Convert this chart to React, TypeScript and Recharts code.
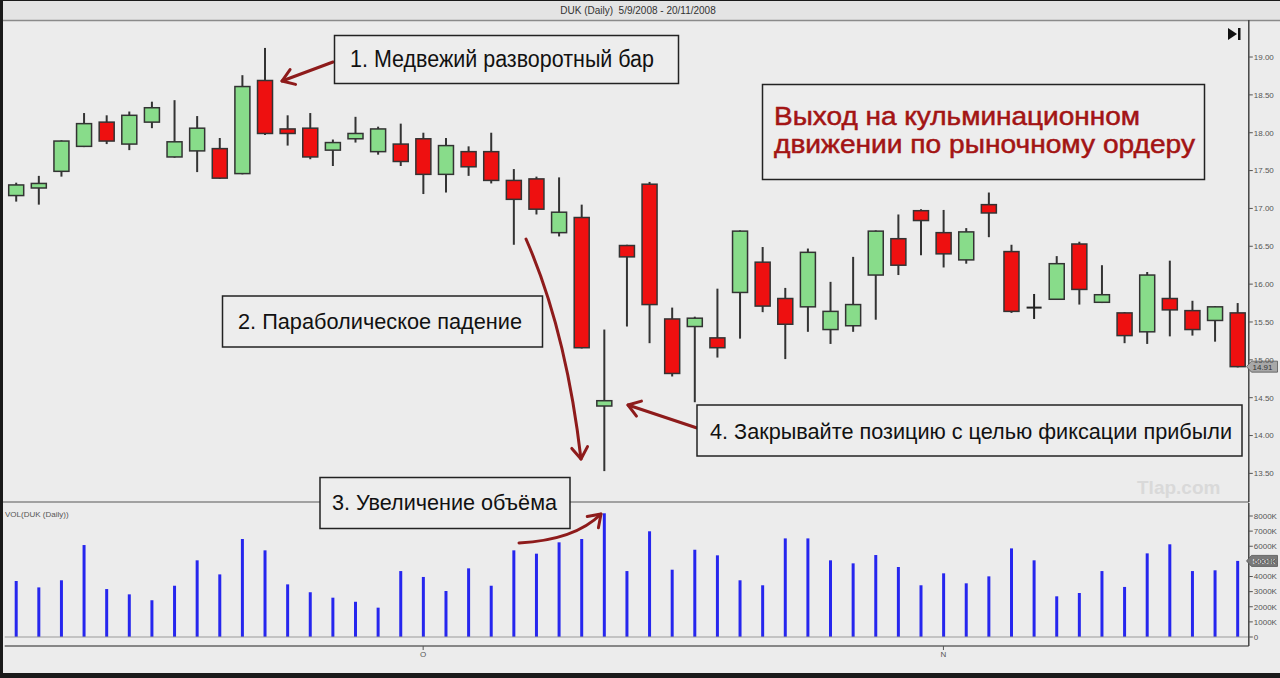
import React from "react";
import {
  ComposedChart,
  Bar,
  XAxis,
  YAxis,
  ReferenceLine,
  ReferenceDot,
} from "recharts";

const FONT = "'Liberation Sans', Arial, sans-serif";

// DUK daily, 5 Sep 2008 - 20 Nov 2008
const dates = [
  "5/9", "8/9", "9/9", "10/9", "11/9", "12/9", "15/9", "16/9", "17/9", "18/9", "19/9",
  "22/9", "23/9", "24/9", "25/9", "26/9", "29/9", "30/9",
  "1/10", "2/10", "3/10", "6/10", "7/10", "8/10", "9/10", "10/10", "13/10", "14/10",
  "15/10", "16/10", "17/10", "20/10", "21/10", "22/10", "23/10", "24/10", "27/10",
  "28/10", "29/10", "30/10", "31/10",
  "3/11", "4/11", "5/11", "6/11", "7/11", "10/11", "11/11", "12/11", "13/11", "14/11",
  "17/11", "18/11", "19/11", "20/11",
];

const opens = [
  17.17, 17.27, 17.49, 17.82, 18.14, 17.85, 18.14, 17.68, 17.76, 17.79, 17.46, 18.69,
  18.05, 18.06, 17.77, 17.92, 17.75, 17.85, 17.92, 17.45, 17.75, 17.75, 17.37, 17.39,
  16.68, 16.88, 14.39, 16.51, 17.32, 15.54, 15.44, 15.29, 15.89, 16.29, 15.81, 15.7,
  15.4, 15.45, 16.12, 16.6, 16.97, 16.68, 16.32, 17.05, 16.43, 15.69, 15.8, 16.53,
  15.76, 15.62, 15.37, 15.81, 15.65, 15.52, 15.62,
];
const closes = [
  17.31, 17.33, 17.89, 18.12, 17.89, 18.23, 18.33, 17.88, 18.06, 17.4, 18.61, 17.99,
  17.99, 17.68, 17.87, 17.99, 18.05, 17.62, 17.45, 17.83, 17.55, 17.37, 17.12, 16.99,
  16.95, 15.16, 14.46, 16.36, 15.73, 14.82, 15.55, 15.16, 16.7, 15.71, 15.47, 16.42,
  15.64, 15.73, 16.7, 16.25, 16.84, 16.4, 16.69, 16.94, 15.64, 15.69, 16.27, 15.93,
  15.86, 15.32, 16.12, 15.66, 15.4, 15.7, 14.91,
];
const highs = [
  17.34, 17.43, 17.9, 18.26, 18.23, 18.28, 18.41, 18.43, 18.22, 17.93, 18.76, 19.12,
  18.23, 18.26, 17.91, 18.21, 18.08, 18.12, 18.0, 17.93, 17.82, 18.0, 17.52, 17.42,
  17.41, 17.05, 15.4, 16.52, 17.35, 15.69, 15.57, 15.94, 16.71, 16.49, 15.95, 16.47,
  16.03, 16.36, 16.71, 16.92, 16.99, 16.98, 16.74, 17.21, 16.52, 15.87, 16.37, 16.56,
  16.25, 15.63, 16.16, 16.31, 15.78, 15.71, 15.75,
];
const lows = [
  17.09, 17.05, 17.42, 17.81, 17.85, 17.77, 18.06, 17.67, 17.48, 17.39, 17.45, 17.97,
  17.83, 17.65, 17.56, 17.87, 17.71, 17.56, 17.19, 17.21, 17.43, 17.33, 16.52, 16.92,
  16.63, 15.15, 13.53, 15.44, 15.22, 14.78, 14.44, 15.03, 15.28, 15.63, 15.01, 15.37,
  15.21, 15.37, 15.53, 16.12, 16.38, 16.22, 16.27, 16.62, 15.62, 15.54, 15.79, 15.73,
  15.75, 15.22, 15.21, 15.31, 15.32, 15.24, 14.9,
];
// volume, thousands of shares
const volumes = [
  3700, 3280, 3750, 6080, 3170, 2820, 2430, 3390, 5070, 4140, 6480, 5730, 3480, 2960,
  2600, 2330, 1940, 4360, 3970, 3040, 4540, 3390, 5730, 5510, 6260, 6480, 8180, 4360,
  6990, 4450, 5770, 5400, 3750, 3420, 6520, 6520, 5070, 4870, 5420, 4630, 3420, 4210,
  3550, 4010, 5860, 5070, 2690, 2910, 4360, 3310, 5530, 6130, 4360, 4410, 5031,
];

const priceTicks = [13.5, 14, 14.5, 15, 15.5, 16, 16.5, 17, 17.5, 18, 18.5, 19];
const volumeTicks = [0, 1000, 2000, 3000, 4000, 5000, 6000, 7000, 8000];
const monthTicks = ["1/10", "3/11"];
const monthNames: Record<string, string> = { "1/10": "O", "3/11": "N" };

const rows = dates.map((date, i) => ({
  date,
  open: opens[i],
  close: closes[i],
  high: highs[i],
  low: lows[i],
  volume: volumes[i],
}));
const last = rows[rows.length - 1];

const UP = "#88dc8a";
const DOWN = "#ee1010";
const EDGE = "#333";
const ARROW = "#8e1b1b";

function Candle(props: any) {
  const { x, y, width, height, payload } = props;
  const top = Math.min(y, y + height);
  const bottom = Math.max(y, y + height);
  const { open, close, high, low } = payload;
  const k = (bottom - top) / (high - low || 1);
  const yOf = (v: number) => top + (high - v) * k;
  const cx = x + width / 2;
  const bodyTop = yOf(Math.max(open, close));
  const bodyBottom = yOf(Math.min(open, close));
  if (open === close) {
    return (
      <g>
        <line x1={cx} x2={cx} y1={top} y2={bottom} stroke="#222" strokeWidth={2} />
        <line x1={x} x2={x + width} y1={bodyTop} y2={bodyTop} stroke="#222" strokeWidth={2} />
      </g>
    );
  }
  return (
    <g>
      <line x1={cx} x2={cx} y1={top} y2={bottom} stroke={EDGE} strokeWidth={2} />
      <rect
        x={x}
        y={bodyTop}
        width={width}
        height={Math.max(bodyBottom - bodyTop, 1)}
        fill={close > open ? UP : DOWN}
        stroke={EDGE}
        strokeWidth={1.5}
      />
    </g>
  );
}

function Tag({ cx, cy, text, fill, color }: any) {
  const l = cx + 9;
  return (
    <g>
      <polygon
        points={`${l},${cy} ${l + 5},${cy - 5.5} ${l + 31},${cy - 5.5} ${l + 31},${cy + 5.5} ${l + 5},${cy + 5.5}`}
        fill={fill}
        stroke="#555"
        strokeWidth={0.8}
      />
      <text x={l + 6} y={cy + 3} fontSize={8} fill={color} fontFamily={FONT}>
        {text}
      </text>
    </g>
  );
}

// open V arrowhead at (tx, ty), pointing along (dx, dy)
function head(tx: number, ty: number, dx: number, dy: number) {
  const a = Math.atan2(dy, dx);
  const len = 14;
  const s = 0.6;
  const p1 = [tx - len * Math.cos(a - s), ty - len * Math.sin(a - s)];
  const p2 = [tx - len * Math.cos(a + s), ty - len * Math.sin(a + s)];
  return `M${p1[0]},${p1[1]} L${tx},${ty} L${p2[0]},${p2[1]}`;
}

const axisTick = { fontSize: 8, fill: "#555", fontFamily: FONT };

export default function App() {
  return (
    <div
      style={{
        position: "absolute",
        left: 0,
        top: 0,
        width: 1280,
        height: 678,
        background: "#ececec",
        overflow: "hidden",
        fontFamily: FONT,
      }}
    >
      {/* frame, title bar, pane separators */}
      <svg width={1280} height={678} style={{ position: "absolute", left: 0, top: 0 }}>
        <rect x={0} y={0} width={1280} height={20} fill="#e4e4e4" />
        <line x1={0} x2={1280} y1={20.5} y2={20.5} stroke="#8a8a8a" strokeWidth={1.5} />
        <text
          x={638}
          y={14}
          textAnchor="middle"
          fontSize={10}
          fill="#333"
          fontFamily={FONT}
          style={{ whiteSpace: "pre" }}
        >
          {"DUK (Daily)  5/9/2008 - 20/11/2008"}
        </text>
        <line x1={0} x2={1249} y1={502} y2={502} stroke="#888" strokeWidth={1.5} />
        <text x={5} y={517} fontSize={8} fill="#555" fontFamily={FONT}>
          VOL(DUK (Daily))
        </text>
        <text x={1137} y={494} fontSize={19} fontWeight="bold" fill="#d9d9d9" fontFamily={FONT}>
          Tlap.com
        </text>
        <polygon points="1228,28 1228,40 1237,34" fill="#111" />
        <rect x={1238} y={28} width={2.5} height={12} fill="#111" />
      </svg>

      {/* price pane */}
      <div style={{ position: "absolute", left: 0, top: 20 }}>
        <ComposedChart
          width={1280}
          height={482}
          data={rows}
          margin={{ top: 0, right: 0, bottom: 0, left: 4.7 }}
        >
          <XAxis dataKey="date" hide />
          <YAxis
            orientation="right"
            width={31.2}
            type="number"
            domain={[13.122, 19.489]}
            ticks={priceTicks}
            allowDataOverflow
            interval={0}
            tickFormatter={(v: number) => v.toFixed(2)}
            tick={axisTick}
            tickSize={4}
            tickMargin={1}
            axisLine={{ stroke: "#444", strokeWidth: 1.5 }}
            tickLine={{ stroke: "#555" }}
          />
          <Bar
            dataKey={(d: any) => [d.low, d.high]}
            barSize={15}
            shape={Candle}
            isAnimationActive={false}
          />
          <ReferenceDot
            x={last.date}
            y={last.close}
            r={0}
            shape={(p: any) => (
              <Tag cx={p.cx} cy={p.cy} text={last.close.toFixed(2)} fill="#a8a8a8" color="#333" />
            )}
          />
        </ComposedChart>
      </div>

      {/* volume pane */}
      <div style={{ position: "absolute", left: 0, top: 503 }}>
        <ComposedChart
          width={1280}
          height={169}
          data={rows}
          margin={{ top: 0, right: 0, bottom: 0, left: 4.7 }}
        >
          <XAxis
            dataKey="date"
            height={26}
            ticks={monthTicks}
            interval={0}
            tickFormatter={(v: string) => monthNames[v] ?? ""}
            tick={axisTick}
            tickSize={4}
            tickMargin={1}
            axisLine={{ stroke: "#666", strokeWidth: 1.5 }}
            tickLine={{ stroke: "#555" }}
          />
          <YAxis
            orientation="right"
            width={31.2}
            type="number"
            domain={[-595, 8860]}
            ticks={volumeTicks}
            allowDataOverflow
            interval={0}
            tickFormatter={(v: number) => (v === 0 ? "0" : `${v}K`)}
            tick={axisTick}
            tickSize={4}
            tickMargin={1}
            axisLine={{ stroke: "#444", strokeWidth: 1.5 }}
            tickLine={{ stroke: "#555" }}
          />
          <ReferenceLine y={0} stroke="#9a9a9a" strokeWidth={1} />
          <Bar dataKey="volume" barSize={3} fill="#2626ee" isAnimationActive={false} />
          <ReferenceDot
            x={last.date}
            y={last.volume}
            r={0}
            shape={(p: any) => (
              <Tag cx={p.cx} cy={p.cy} text={`${last.volume}K`} fill="#7a7a7a" color="#f0f0f0" />
            )}
          />
        </ComposedChart>
      </div>

      {/* annotations */}
      <svg
        width={1280}
        height={678}
        style={{ position: "absolute", left: 0, top: 0, pointerEvents: "none" }}
        fontFamily={FONT}
      >
        <g stroke={ARROW} strokeWidth={3} fill="none" strokeLinecap="round" strokeLinejoin="round">
          <path d="M333,62 L282,81" />
          <path d={head(282, 81, -51, 19)} />
          <path d="M526,239 Q566,330 581,459" />
          <path d={head(581, 459, 15, 129)} />
          <path d="M697,428 L628,405" />
          <path d={head(628, 405, -69, -23)} />
          <path d="M519,543 Q575,540 601,514" />
          <path d={head(601, 514, 26, -26)} />
        </g>

        <rect x={334.5} y={35.5} width={344} height={48} fill="#ededed" stroke="#222" strokeWidth={1.5} />
        <text x={350} y={67} fontSize={23} fill="#111" textLength={304} lengthAdjust="spacingAndGlyphs">
          1. Медвежий разворотный бар
        </text>

        <rect x={762.5} y={84.5} width={442} height={95} fill="#ededed" stroke="#222" strokeWidth={1.5} />
        <text x={774} y={125} fontSize={25} fill="#a31414" stroke="#a31414" strokeWidth={0.5} textLength={366} lengthAdjust="spacingAndGlyphs">
          Выход на кульминационном
        </text>
        <text x={774} y={153} fontSize={25} fill="#a31414" stroke="#a31414" strokeWidth={0.5} textLength={421} lengthAdjust="spacingAndGlyphs">
          движении по рыночному ордеру
        </text>

        <rect x={222.5} y={296} width={320} height={51} fill="#ededed" stroke="#222" strokeWidth={1.5} />
        <text x={238} y={329} fontSize={22} fill="#111" textLength={284} lengthAdjust="spacingAndGlyphs">
          2. Параболическое падение
        </text>

        <rect x={697} y={405} width={545} height={51} fill="#ededed" stroke="#222" strokeWidth={1.5} />
        <text x={710} y={439} fontSize={21.5} fill="#111" textLength={522} lengthAdjust="spacingAndGlyphs">
          4. Закрывайте позицию с целью фиксации прибыли
        </text>

        <rect x={320} y={477.5} width={250} height={51} fill="#ededed" stroke="#222" strokeWidth={1.5} />
        <text x={332} y={510} fontSize={22} fill="#111" textLength={225} lengthAdjust="spacingAndGlyphs">
          3. Увеличение объёма
        </text>

        {/* outer dark frame */}
        <rect x={0} y={0} width={3} height={678} fill="#1a1a1a" />
        <rect x={0} y={673} width={1280} height={5} fill="#1a1a1a" />
        <rect x={0} y={0} width={1280} height={1} fill="#1a1a1a" />
      </svg>
    </div>
  );
}
